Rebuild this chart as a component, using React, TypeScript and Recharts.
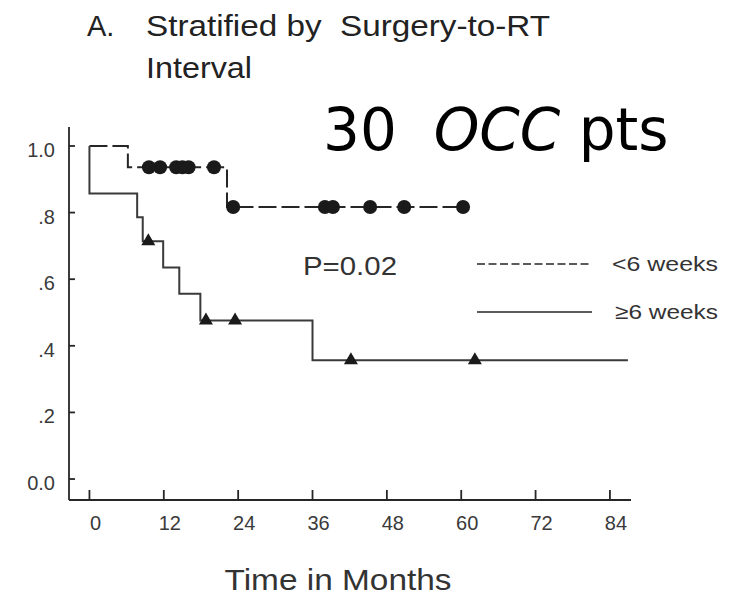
import React from "react";
import {
  ComposedChart, Line, Scatter, XAxis, YAxis, Legend, Label,
} from "recharts";

// Kaplan-Meier steps (months, survival)
const EARLY_T = [0, 6.2, 22.2, 60.3];
const EARLY_S = [1.0, 0.936, 0.817, 0.817];
const EARLY_CENSOR_T = [9.6, 11.4, 14.0, 15.0, 16.0, 20.1, 23.2, 38.0, 39.3, 45.3, 50.8, 60.3];

const LATE_T = [0, 0, 7.7, 8.6, 11.9, 14.5, 17.9, 36.0, 86.9];
const LATE_S = [1.0, 0.857, 0.786, 0.714, 0.635, 0.556, 0.476, 0.357, 0.357];
const LATE_CENSOR_T = [9.5, 18.8, 23.5, 42.2, 62.2];

const X_TICKS = [0, 12, 24, 36, 48, 60, 72, 84];
const Y_TICKS = [0, 0.2, 0.4, 0.6, 0.8, 1.0];
const Y_TICK_LABELS = ["0.0", ".2", ".4", ".6", ".8", "1.0"];

const EARLY_NAME = "<6 weeks";
const LATE_NAME = "\u22656 weeks";

const W = 733;
const H = 596;
const YW = 50;
const XH = 40;
const FONT = "'Liberation Sans', Arial, sans-serif";
const INK = "#262626";
const EARLY_DASH = "18 5";

const steps = (ts: number[], ss: number[]) => ts.map((t, i) => ({ t, s: ss[i] }));

// survival level of a step curve at time t
const levelAt = (ts: number[], ss: number[], t: number) => {
  let v = ss[0];
  ts.forEach((x, i) => { if (x <= t) v = ss[i]; });
  return v;
};

const earlyLine = steps(EARLY_T, EARLY_S);
const lateLine = steps(LATE_T, LATE_S);
const earlyCensor = EARLY_CENSOR_T.map(t => ({ t, s: levelAt(EARLY_T, EARLY_S, t) }));
const lateCensor = LATE_CENSOR_T.map(t => ({ t, s: levelAt(LATE_T, LATE_S, t) }));

const XTick = ({ x, y, payload }: any) => (
  <g>
    <line x1={x} x2={x} y1={y} y2={y - 10} stroke={INK} strokeWidth={1.8} />
    <text x={x + 6} y={y + 30} textAnchor="middle" fontSize={20} fontFamily={FONT} fill="#3a3a3a">
      {payload.value}
    </text>
  </g>
);

const YTick = ({ x, y, payload }: any) => {
  const idx = Y_TICKS.findIndex(v => Math.abs(v - payload.value) < 1e-6);
  return (
    <g>
      <line x1={x} x2={x + 6} y1={y} y2={y} stroke={INK} strokeWidth={1.8} />
      <text x={55} y={y + 11} textAnchor="end" fontSize={20} fontFamily={FONT} fill="#3a3a3a">
        {idx >= 0 ? Y_TICK_LABELS[idx] : payload.value}
      </text>
    </g>
  );
};

const Dot = ({ cx, cy }: any) => <circle cx={cx} cy={cy} r={7} fill="#1a1a1a" />;

const Tri = ({ cx, cy }: any) => (
  <path d={`M${cx},${cy - 8} L${cx + 7},${cy + 4} L${cx - 7},${cy + 4} Z`} fill="#1a1a1a" />
);

const LegendRows = ({ payload }: any) => {
  const order = [EARLY_NAME, LATE_NAME];
  const items = (payload || [])
    .filter((p: any) => order.includes(p.value))
    .sort((a: any, b: any) => order.indexOf(a.value) - order.indexOf(b.value));
  return (
    <svg width={260} height={90}>
      {items.map((p: any, i: number) => {
        const dashed = p.value === EARLY_NAME;
        const ly = i === 0 ? 24 : 72;
        return (
          <g key={p.value}>
            <line x1={7} x2={122} y1={ly} y2={ly} stroke={INK} strokeWidth={1.5}
              strokeDasharray={dashed ? "8 3.5" : undefined} />
            <text x={dashed ? 142 : 145} y={ly + 7} fontSize={21} fontFamily={FONT} fill="#333"
              textLength={dashed ? 106 : 103} lengthAdjust="spacingAndGlyphs">
              {p.value}
            </text>
          </g>
        );
      })}
    </svg>
  );
};

const XLabel = ({ viewBox }: any) => (
  <text x={viewBox.x + viewBox.width / 2 - 12} y={viewBox.y + 90} textAnchor="middle"
    fontSize={29} fontFamily={FONT} fill="#333" textLength={227} lengthAdjust="spacingAndGlyphs">
    Time in Months
  </text>
);

export default function App() {
  return (
    <div style={{ position: "absolute", left: 0, top: 0, width: W, height: H, background: "#fff" }}>
      <ComposedChart
        width={W}
        height={H}
        margin={{ top: 127, right: 102, left: 69 - YW, bottom: H - 500 - XH }}
      >
        <XAxis
          type="number"
          dataKey="t"
          domain={[-3.3, 87.4]}
          ticks={X_TICKS}
          allowDataOverflow
          height={XH}
          tickSize={0}
          tickMargin={0}
          tickLine={false}
          axisLine={{ stroke: INK, strokeWidth: 1.8 }}
          tick={<XTick />}
          interval={0}
        >
          <Label content={<XLabel />} />
        </XAxis>
        <YAxis
          type="number"
          dataKey="s"
          domain={[-0.063, 1.057]}
          ticks={Y_TICKS}
          allowDataOverflow
          width={YW}
          tickSize={0}
          tickMargin={0}
          tickLine={false}
          axisLine={{ stroke: INK, strokeWidth: 1.8 }}
          tick={<YTick />}
          interval={0}
        />
        <Legend
          layout="horizontal"
          verticalAlign="middle"
          align="center"
          wrapperStyle={{ left: 470, top: 240, width: 260, height: 90 }}
          content={<LegendRows />}
        />
        <Line
          data={earlyLine}
          dataKey="s"
          name={EARLY_NAME}
          type="stepAfter"
          stroke={INK}
          strokeWidth={2}
          strokeDasharray={EARLY_DASH}
          dot={false}
          isAnimationActive={false}
        />
        <Line
          data={lateLine}
          dataKey="s"
          name={LATE_NAME}
          type="stepAfter"
          stroke="#3a3a3a"
          strokeWidth={2}
          dot={false}
          isAnimationActive={false}
        />
        <Scatter data={earlyCensor} dataKey="s" shape={<Dot />} legendType="none" isAnimationActive={false} />
        <Scatter data={lateCensor} dataKey="s" shape={<Tri />} legendType="none" isAnimationActive={false} />
      </ComposedChart>

      <svg width={W} height={H} style={{ position: "absolute", left: 0, top: 0, pointerEvents: "none" }}>
        <text x={87} y={36} fontSize={29} fontFamily={FONT} fill="#222">A.</text>
        <text x={146} y={36} fontSize={29} fontFamily={FONT} fill="#222" style={{ whiteSpace: "pre" }}
          textLength={404} lengthAdjust="spacingAndGlyphs">
          {"Stratified by  Surgery-to-RT"}
        </text>
        <text x={146} y={78} fontSize={29} fontFamily={FONT} fill="#222"
          textLength={106} lengthAdjust="spacingAndGlyphs">
          Interval
        </text>
        <text x={323} y={150} fontSize={58} fontFamily="'DejaVu Sans', sans-serif" fill="#000"
          style={{ whiteSpace: "pre" }}>
          {"30  "}<tspan fontStyle="italic">OCC</tspan>{" pts"}
        </text>
        <text x={303} y={275} fontSize={26} fontFamily={FONT} fill="#333"
          textLength={94} lengthAdjust="spacingAndGlyphs">
          P=0.02
        </text>
      </svg>
    </div>
  );
}
